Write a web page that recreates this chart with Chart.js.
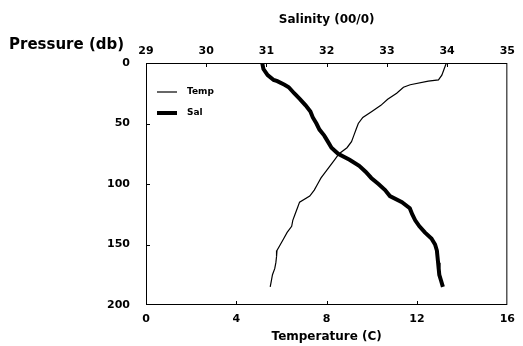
<!DOCTYPE html>
<html>
<head>
<meta charset="utf-8">
<script src="https://cdn.jsdelivr.net/npm/chart.js"></script>
<style>
  html, body { margin: 0; padding: 0; background: #fff; }
  #wrap { width: 523px; height: 346px; }
</style>
</head>
<body>
<div id="wrap"><canvas id="profileChart"></canvas></div>
<script>
// Pressure levels (db) and readings at each level
const pressure = [0, 5, 10, 14, 15, 18, 20, 25, 30, 35, 40, 45, 50, 55, 60, 65, 70, 75, 80, 85, 90, 95,
  100, 105, 110, 115, 120, 125, 130, 135, 140, 145, 150, 155, 160, 165, 170, 175, 180, 185];
const temp = [13.3, 13.2, 13.1, 12.95, 12.5, 11.7, 11.4, 11.1, 10.7, 10.4, 10.0, 9.6, 9.4, 9.3, 9.2, 9.1, 8.9, 8.55,
  8.35, 8.15, 7.95, 7.75, 7.6, 7.45, 7.25, 6.8, 6.7, 6.6, 6.5, 6.45, 6.25, 6.1, 5.95, 5.8, 5.78, 5.75, 5.7, 5.6, 5.55, 5.5];
const sal = [30.93, 30.95, 31.02, 31.12, 31.18, 31.3, 31.37, 31.46, 31.56, 31.65, 31.73, 31.77, 31.83, 31.88, 31.96,
  32.02, 32.08, 32.19, 32.38, 32.54, 32.65, 32.74, 32.86, 32.97, 33.05, 33.25, 33.38, 33.42, 33.47, 33.54, 33.63,
  33.74, 33.8, 33.83, 33.84, 33.85, 33.86, 33.87, 33.9, 33.93];

const pressureTicks = [0, 50, 100, 150, 200];
const tempTicks = [0, 4, 8, 12, 16];
const salTicks = [29, 30, 31, 32, 33, 34, 35];

const fontFamily = '"DejaVu Sans", sans-serif';

// Box around the plot, inward tick marks, the legend and the y label
const framePlugin = {
  id: 'frame',
  afterDraw(chart) {
    const ctx = chart.ctx;
    const area = chart.chartArea;
    const s = chart.scales;
    ctx.save();
    ctx.strokeStyle = '#000';
    ctx.lineWidth = 1;
    ctx.strokeRect(area.left + 0.5, area.top + 0.5, area.right - area.left - 1, area.bottom - area.top - 1);

    ctx.beginPath();
    salTicks.slice(1, -1).forEach(v => {
      const x = Math.round(s.x2.getPixelForValue(v)) + 0.5;
      ctx.moveTo(x, area.top);
      ctx.lineTo(x, area.top + 4);
    });
    tempTicks.slice(1, -1).forEach(v => {
      const x = Math.round(s.x.getPixelForValue(v)) + 0.5;
      ctx.moveTo(x, area.bottom);
      ctx.lineTo(x, area.bottom - 4);
    });
    pressureTicks.slice(1, -1).forEach(v => {
      const y = Math.round(s.y.getPixelForValue(v)) + 0.5;
      ctx.moveTo(area.left, y);
      ctx.lineTo(area.left + 4, y);
    });
    ctx.stroke();

    // legend
    ctx.fillStyle = '#000';
    ctx.font = 'bold 9px ' + fontFamily;
    ctx.textBaseline = 'middle';
    chart.data.datasets.forEach((ds, i) => {
      const y = 92 + i * 21;
      ctx.beginPath();
      ctx.lineWidth = ds.borderWidth;
      ctx.moveTo(area.left + 11, y);
      ctx.lineTo(area.left + 31, y);
      ctx.stroke();
      ctx.fillText(ds.label, area.left + 41, y);
    });

    ctx.font = 'bold 15px ' + fontFamily;
    ctx.textAlign = 'left';
    ctx.fillText('Pressure (db)', 9, 45);
    ctx.restore();
  }
};

const ctx = document.getElementById('profileChart').getContext('2d');

new Chart(ctx, {
  type: 'scatter',
  data: {
    datasets: [{
      label: 'Temp',
      data: pressure.map((p, i) => ({ x: temp[i], y: p })),
      xAxisID: 'x',
      showLine: true,
      borderColor: '#000',
      borderWidth: 1.2,
      pointRadius: 0,
      tension: 0
    }, {
      label: 'Sal',
      data: pressure.map((p, i) => ({ x: sal[i], y: p })),
      xAxisID: 'x2',
      showLine: true,
      borderColor: '#000',
      borderWidth: 4,
      pointRadius: 0,
      tension: 0
    }]
  },
  options: {
    responsive: true,
    maintainAspectRatio: false,
    animation: false,
    layout: { padding: { left: 0, right: 12.5, top: 0, bottom: 0 } },
    plugins: {
      legend: { display: false },
      tooltip: { enabled: false }
    },
    scales: {
      x: {
        type: 'linear',
        position: 'bottom',
        min: 0,
        max: 16,
        afterBuildTicks: scale => { scale.ticks = tempTicks.map(v => ({ value: v })); },
        afterFit: scale => { scale.height = 41; },
        grid: { display: false, drawTicks: false },
        border: { display: false },
        ticks: { color: '#000', padding: 8, font: { family: fontFamily, size: 11, weight: 'bold' } },
        title: {
          display: true,
          text: 'Temperature (C)',
          color: '#000',
          padding: { top: 0, bottom: 2 },
          font: { family: fontFamily, size: 12, weight: 'bold' }
        }
      },
      x2: {
        type: 'linear',
        position: 'top',
        min: 29,
        max: 35,
        afterBuildTicks: scale => { scale.ticks = salTicks.map(v => ({ value: v })); },
        afterFit: scale => { scale.height = 63; },
        grid: { display: false, drawTicks: false },
        border: { display: false },
        ticks: { color: '#000', padding: 5, font: { family: fontFamily, size: 11, weight: 'bold' } },
        title: {
          display: true,
          text: 'Salinity (00/0)',
          color: '#000',
          padding: { top: 13, bottom: 0 },
          font: { family: fontFamily, size: 12, weight: 'bold' }
        }
      },
      y: {
        type: 'linear',
        position: 'left',
        reverse: true,
        min: 0,
        max: 200,
        afterBuildTicks: scale => { scale.ticks = pressureTicks.map(v => ({ value: v })); },
        afterFit: scale => { scale.width = 146; },
        grid: { display: false, drawTicks: false },
        border: { display: false },
        ticks: { color: '#000', padding: 16, font: { family: fontFamily, size: 11, weight: 'bold' } }
      }
    }
  },
  plugins: [framePlugin]
});
</script>
</body>
</html>
